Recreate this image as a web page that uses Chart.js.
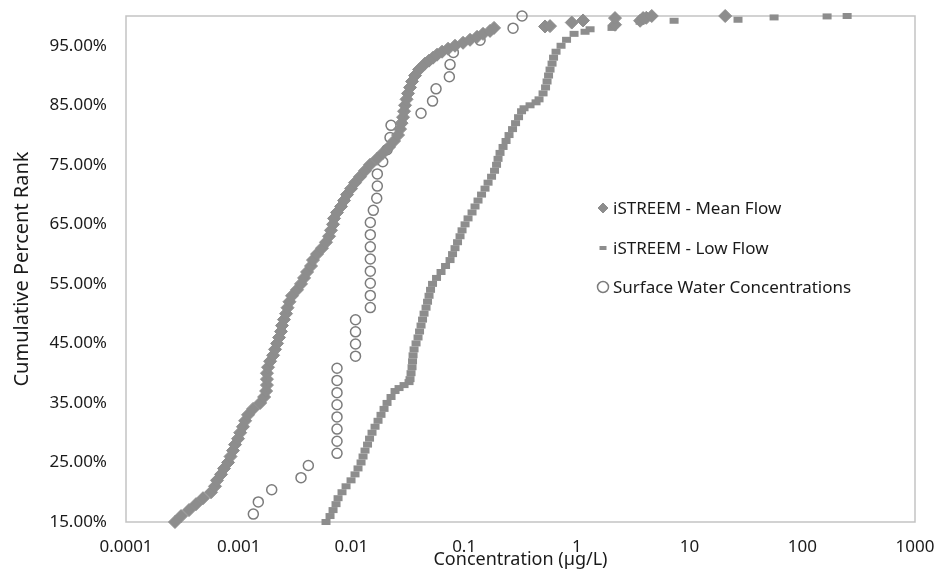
<!DOCTYPE html>
<html>
<head>
<meta charset="utf-8">
<script src="https://cdn.jsdelivr.net/npm/chart.js@4.4.1/dist/chart.umd.min.js"></script>
<style>
html,body{margin:0;padding:0;background:#fff;}
#wrap{width:937px;height:571px;}
</style>
</head>
<body>
<div id="wrap"><canvas id="c" width="937" height="571"></canvas></div>
<script>
// ---- data ----
const meanRank = [15,16,17,18,19,20,21,22,23,24,25,26,27,28,29,30,31,32,33,34,35,36,37,38,39,40,41,42,43,44,45,46,47,48,49,50,51,52,53,54,55,56,57,58,59,60,61,62,63,64,65,66,67,68,69,70,71,72,73,74,75,76,77,78,79,80,81,82,83,84,85,86,87,88,89,90,91,92,92.5,93,93.5,94,94.5,95,95.5,96,96.5,97,97.5,98,
  98.24,98.3,98.9,99.25,98.53,99.65,99.2,99.65,99.7,100,100];
const meanConc = [0.000272,0.000308,0.000362,0.000418,0.000482,0.000568,0.000616,0.000642,0.000697,0.000741,0.000804,0.000846,0.00089,0.000927,0.000986,0.00103,0.00109,0.00114,0.00121,0.00134,0.00155,0.00168,0.00175,0.00178,0.00178,0.00178,0.00182,0.0019,0.00202,0.0021,0.00219,0.00228,0.00237,0.00242,0.00252,0.00263,0.00271,0.00282,0.00297,0.00329,0.00357,0.0038,0.00404,0.00438,0.00456,0.00495,0.00548,0.00595,0.00633,0.00659,0.00687,0.00701,0.00745,0.00809,0.0086,0.00914,0.00992,0.01076,0.01192,0.0132,0.01462,0.01687,0.01907,0.02156,0.02388,0.02591,0.027,0.02783,0.0287,0.0293,0.0299,0.03083,0.03178,0.03311,0.0345,0.03667,0.0398,0.045,0.0488,0.053,0.0575,0.0637,0.072,0.083,0.0978,0.1128,0.1302,0.1471,0.1697,0.1842,
  0.522,0.578,0.901,1.135,2.18,2.18,3.64,3.87,4.13,4.62,20.7];

const lowRank = [15,16,17,18,19,20,21,22,23,24,25,26,27,28,29,30,31,32,33,34,35,36,37,37.5,38,38.5,39,40,41,42,43,44,45,46,47,48,49,50,51,52,53,54,55,56,57,58,59,60,61,62,63,64,65,66,67,68,69,70,71,72,73,74,75,76,77,78,79,80,81,82,83,84,84.5,85,85.5,86,87,88,89,90,91,92,93,94,95,96,97,
  97.35,97.77,98.0,99.03,99.2,99.37,99.76,99.93,100];
const lowConc = [0.00595,0.00646,0.00687,0.0073,0.00761,0.00825,0.00896,0.00992,0.01076,0.01144,0.01217,0.01268,0.0132,0.0139,0.01448,0.01523,0.0162,0.01722,0.0183,0.01947,0.0207,0.02246,0.02437,0.02645,0.0293,0.03244,0.03311,0.0338,0.0345,0.03485,0.03522,0.03594,0.03744,0.03899,0.04022,0.04146,0.04275,0.04409,0.04592,0.04735,0.04882,0.05034,0.05243,0.05689,0.06237,0.06839,0.07498,0.07891,0.08301,0.08737,0.09196,0.0958,0.1019,0.1083,0.1175,0.1249,0.1328,0.1427,0.1532,0.163,0.1751,0.1861,0.1939,0.1999,0.2082,0.2214,0.2354,0.2502,0.2688,0.2859,0.3039,0.3231,0.34,0.3843,0.4345,0.4619,0.5013,0.5277,0.5441,0.561,0.5783,0.6025,0.6213,0.6538,0.7241,0.8102,0.9445,
  1.182,1.31,2.05,3.64,7.29,26.9,56.2,166,250];

const swRank = [16.33,18.37,20.41,22.45,24.49,26.53,28.57,30.61,32.65,34.69,36.73,38.78,40.82,42.86,44.90,46.94,48.98,51.02,53.06,55.10,57.14,59.18,61.22,63.27,65.31,67.35,69.39,71.43,73.47,75.51,77.55,79.59,81.63,83.67,85.71,87.76,89.80,91.84,93.88,95.92,97.96,100];
const swConc = [0.001348,0.001492,0.001962,0.00357,0.004146,0.00745,0.00745,0.00745,0.00745,0.00745,0.00745,0.00745,0.00745,0.01087,0.01087,0.01087,0.01087,0.01471,0.01471,0.01471,0.01471,0.01471,0.01471,0.01471,0.01471,0.01564,0.01677,0.01697,0.01697,0.01895,0.0207,0.022,0.02246,0.04146,0.05243,0.05632,0.07392,0.07498,0.08022,0.1384,0.2716,0.3264];

const xTicks = [0.0001,0.001,0.01,0.1,1,10,100,1000];
const xTickLabels = ['0.0001','0.001','0.01','0.1','1','10','100','1000'];
const yTicks = [15,25,35,45,55,65,75,85,95];
const yTickLabels = ['15.00%','25.00%','35.00%','45.00%','55.00%','65.00%','75.00%','85.00%','95.00%'];
const seriesNames = ['iSTREEM - Mean Flow','iSTREEM - Low Flow','Surface Water Concentrations'];
const xTitle = 'Concentration (µg/L)';
const yTitle = 'Cumulative Percent Rank';

// ---- chart ----
const FONT = 'Noto Sans';
const TXT = '#1a1a1a';
const MARK = '#8d8d8d';
function pts(xs, ys){ return xs.map((x,i)=>({x:x, y:ys[i]})); }

const boxPlugin = {
  id:'box',
  beforeDatasetsDraw(chart){
    const {ctx, chartArea:a} = chart;
    ctx.save();
    ctx.strokeStyle = '#c3c3c3';
    ctx.lineWidth = 1.5;
    ctx.strokeRect(a.left, a.top, a.right-a.left, a.bottom-a.top);
    ctx.restore();
  }
};

const legendPlugin = {
  id:'inLegend',
  afterDraw(chart){
    const ctx = chart.ctx;
    const rows = [208, 248, 287];
    ctx.save();
    ctx.font = '17px "' + FONT + '"';
    ctx.fillStyle = TXT;
    ctx.textBaseline = 'middle';
    ctx.textAlign = 'left';
    chart.data.datasets.forEach((ds, i) => {
      const y = rows[i];
      const mx = 603;
      ctx.save();
      ctx.fillStyle = ds.backgroundColor;
      ctx.strokeStyle = ds.borderColor;
      ctx.lineWidth = ds.legendBorder;
      Chart.helpers.drawPoint(ctx, {pointStyle: ds.pointStyle, radius: ds.legendRadius, borderWidth: ds.legendBorder, rotation: 0}, mx, y);
      ctx.restore();
      ctx.fillText(seriesNames[i], 613, y + 1);
    });
    ctx.restore();
  }
};

new Chart(document.getElementById('c'), {
  type: 'scatter',
  data: {
    datasets: [
      { label: seriesNames[0], data: pts(meanConc, meanRank), pointStyle: 'rectRot', pointRadius: 6.5, borderWidth: 1,
        backgroundColor: MARK, borderColor: MARK, clip: false, legendRadius: 5, legendBorder: 1 },
      { label: seriesNames[1], data: pts(lowConc, lowRank), pointStyle: 'line', pointRadius: 4.5, borderWidth: 6,
        backgroundColor: MARK, borderColor: MARK, clip: false, legendRadius: 3.5, legendBorder: 4 },
      { label: seriesNames[2], data: pts(swConc, swRank), pointStyle: 'circle', pointRadius: 5, borderWidth: 1.5,
        backgroundColor: 'rgba(255,255,255,0)', borderColor: '#7c7c7c', clip: false, legendRadius: 5.5, legendBorder: 1.5 }
    ]
  },
  options: {
    responsive: false,
    animation: false,
    devicePixelRatio: 1,
    layout: { padding: { top: 16, right: 22, left: 0, bottom: 0 } },
    plugins: { legend: { display: false }, tooltip: { enabled: false } },
    scales: {
      x: {
        type: 'logarithmic', min: 0.0001, max: 1000,
        afterBuildTicks: s => { s.ticks = xTicks.map(v => ({ value: v })); },
        afterFit: s => { s.height = 49; s.paddingLeft = 0; s.paddingRight = 0; },
        ticks: { callback: (v, i) => xTickLabels[i], autoSkip: false, maxRotation: 0, padding: 15,
                 color: TXT, font: { family: FONT, size: 17 } },
        grid: { display: false, drawTicks: false },
        border: { display: false },
        title: { display: true, text: xTitle, color: TXT, font: { family: FONT, size: 18 }, padding: { top: 0, bottom: 0 } }
      },
      y: {
        type: 'linear', min: 15, max: 100,
        afterBuildTicks: s => { s.ticks = yTicks.map(v => ({ value: v })); },
        afterFit: s => { s.width = 126; s.paddingTop = 0; s.paddingBottom = 0; },
        ticks: { callback: (v, i) => yTickLabels[i], autoSkip: false, padding: 19,
                 color: TXT, font: { family: FONT, size: 17 } },
        grid: { display: false, drawTicks: false },
        border: { display: false },
        title: { display: true, text: yTitle, color: TXT, font: { family: FONT, size: 20 }, padding: { top: 10, bottom: 0 } }
      }
    }
  },
  plugins: [boxPlugin, legendPlugin]
});
</script>
</body>
</html>
